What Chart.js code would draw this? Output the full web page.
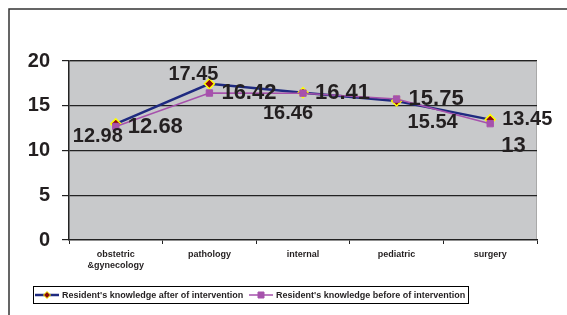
<!DOCTYPE html>
<html>
<head>
<meta charset="utf-8">
<script src="https://cdn.jsdelivr.net/npm/chart.js@4"></script>
<style>
  html, body { margin: 0; padding: 0; background: #fff; }
  #wrap { width: 567px; height: 315px; position: relative; }
</style>
</head>
<body>
<div id="wrap"><canvas id="chart" width="567" height="315"></canvas></div>
<script>
// ── data ─────────────────────────────────────────────
const categories = [['obstetric', '&gynecology'], 'pathology', 'internal', 'pediatric', 'surgery'];
const afterValues  = [12.98, 17.45, 16.46, 15.54, 13.45];
const beforeValues = [12.68, 16.42, 16.41, 15.75, 13];
const yTicks = [0, 5, 10, 15, 20];
const seriesNames = [
  "Resident's knowledge after of intervention",
  "Resident's knowledge before of intervention",
];

// label placement per point (style only)
const afterLabelPos  = ['bl', 'tl', 'bl2', 'br', 'r'];
const beforeLabelPos = ['r', 'r', 'r', 'r', 'br'];

const FONT = '"Liberation Sans", Arial, sans-serif';
const NAVY = '#1f2a80';
const PURPLE = '#a652ac';

// ── plugins ──────────────────────────────────────────
const frame = {
  id: 'frame',
  beforeDraw(chart) {
    const { ctx, chartArea: a } = chart;
    ctx.save();
    ctx.fillStyle = '#c8c9cb';
    ctx.fillRect(a.left, a.top, a.right - a.left, a.bottom - a.top);
    ctx.strokeStyle = '#a9a9a9';
    ctx.lineWidth = 1;
    ctx.beginPath();
    ctx.moveTo(a.left, a.top + 0.5);
    ctx.lineTo(a.right - 0.5, a.top + 0.5);
    ctx.lineTo(a.right - 0.5, a.bottom);
    ctx.stroke();
    // outer border (top + left)
    ctx.strokeStyle = '#333';
    ctx.lineWidth = 1.5;
    ctx.beginPath();
    ctx.moveTo(chart.width, 9);
    ctx.lineTo(9, 9);
    ctx.lineTo(9, chart.height);
    ctx.stroke();
    ctx.restore();
  },
};

function drawLabels(chart, dsIndex, positions, font) {
  const { ctx } = chart;
  const meta = chart.getDatasetMeta(dsIndex);
  const values = chart.data.datasets[dsIndex].data;
  ctx.save();
  ctx.font = font;
  ctx.fillStyle = '#231f20';
  ctx.textBaseline = 'middle';
  ctx.textAlign = 'left';
  meta.data.forEach((pt, i) => {
    const txt = String(values[i]);
    const w = ctx.measureText(txt).width;
    let x = pt.x, y = pt.y;
    switch (positions[i]) {
      case 'r':   x += 12;               break;
      case 'bl':  x -= w * 0.5 + 18; y += 13; break;
      case 'bl2': x -= w * 0.5 + 15; y += 21; break;
      case 'tl':  x -= w * 0.5 + 16; y -= 9;  break;
      case 'br':  x += 11;           y += 22; break;
    }
    ctx.fillText(txt, x, y);
  });
  ctx.restore();
}

const pointLabels = {
  id: 'pointLabels',
  afterDatasetsDraw(chart) {
    drawLabels(chart, 0, afterLabelPos, `bold 20px ${FONT}`);
    drawLabels(chart, 1, beforeLabelPos, `bold 22px ${FONT}`);
  },
};

const boxLegend = {
  id: 'boxLegend',
  afterDraw(chart) {
    const { ctx } = chart;
    const ds = chart.data.datasets;
    ctx.save();
    ctx.strokeStyle = '#000';
    ctx.lineWidth = 1;
    ctx.strokeRect(33.5, 286.5, 435, 17);
    ctx.font = `bold 9px ${FONT}`;
    ctx.textBaseline = 'middle';
    const starts = [35, 249];
    ds.forEach((d, i) => {
      const x0 = starts[i], y0 = 295;
      ctx.strokeStyle = d.borderColor;
      ctx.lineWidth = i === 0 ? 2.5 : 1.5;
      ctx.beginPath();
      ctx.moveTo(x0, y0); ctx.lineTo(x0 + 24, y0);
      ctx.stroke();
      const cx = x0 + 12;
      ctx.fillStyle = d.pointBackgroundColor;
      ctx.strokeStyle = d.pointBorderColor;
      ctx.lineWidth = 1;
      ctx.beginPath();
      if (d.pointStyle === 'rectRot') {
        ctx.moveTo(cx, y0 - 3.5); ctx.lineTo(cx + 3.5, y0);
        ctx.lineTo(cx, y0 + 3.5); ctx.lineTo(cx - 3.5, y0);
        ctx.closePath();
      } else {
        ctx.rect(cx - 3, y0 - 3, 6, 6);
      }
      ctx.fill(); ctx.stroke();
      ctx.fillStyle = '#231f20';
      ctx.fillText(d.label, x0 + 27, y0 + 0.5);
    });
    ctx.restore();
  },
};

// ── chart ────────────────────────────────────────────
new Chart(document.getElementById('chart'), {
  type: 'line',
  data: {
    labels: categories,
    datasets: [
      {
        label: seriesNames[0],
        data: afterValues,
        borderColor: NAVY,
        borderWidth: 2.5,
        pointStyle: 'rectRot',
        pointRadius: 5,
        pointBackgroundColor: '#8b0a0a',
        pointBorderColor: '#ffff00',
        pointBorderWidth: 1.5,
        tension: 0,
        order: 1,
      },
      {
        label: seriesNames[1],
        data: beforeValues,
        borderColor: PURPLE,
        borderWidth: 1.5,
        pointStyle: 'rect',
        pointRadius: 4.5,
        pointBackgroundColor: PURPLE,
        pointBorderColor: PURPLE,
        pointBorderWidth: 1,
        tension: 0,
        order: 0,
      },
    ],
  },
  options: {
    responsive: false,
    animation: false,
    layout: { padding: { top: 61, right: 30, left: 0, bottom: 0 } },
    plugins: { legend: { display: false }, tooltip: { enabled: false } },
    scales: {
      x: {
        offset: true,
        afterFit: s => { s.height = 75; },
        grid: {
          offset: true,
          drawOnChartArea: false,
          drawTicks: true,
          tickLength: 4,
          color: '#222',
        },
        border: { color: '#222', width: 1.5 },
        ticks: {
          color: '#231f20',
          font: { family: FONT, size: 9, weight: 'bold' },
          padding: 5,
          maxRotation: 0,
          autoSkip: false,
        },
      },
      y: {
        min: yTicks[0],
        max: yTicks[yTicks.length - 1],
        afterFit: s => { s.width = 69; },
        afterBuildTicks: s => { s.ticks = yTicks.map(v => ({ value: v })); },
        grid: {
          color: ctx => ctx.tick && ctx.tick.value === 0 ? 'rgba(0,0,0,0)' : '#222',
          lineWidth: 1.2,
          drawTicks: true,
          tickLength: 7,
          tickColor: '#222',
        },
        border: { color: '#222', width: 1.5 },
        ticks: {
          color: '#231f20',
          font: { family: FONT, size: 20, weight: 'bold' },
          padding: 12,
        },
      },
    },
  },
  plugins: [frame, pointLabels, boxLegend],
});
</script>
</body>
</html>
